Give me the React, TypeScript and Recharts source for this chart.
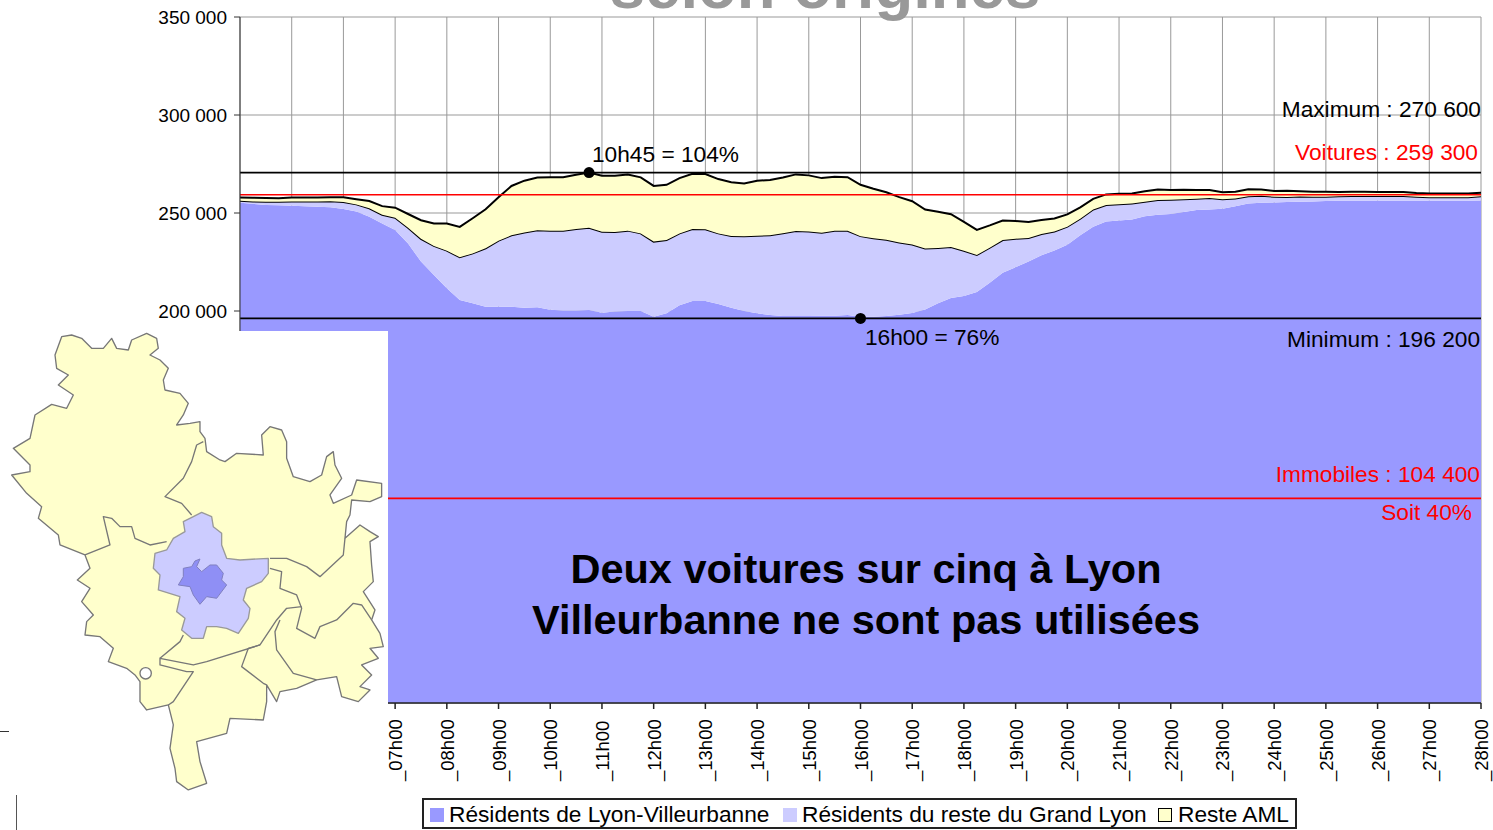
import { Area, AreaChart, CartesianGrid, Legend, ReferenceDot, ReferenceLine, XAxis, YAxis } from "recharts";

const FONT = "'Liberation Sans', Arial, sans-serif";

// one value every 15 minutes, from 04h00 to 28h00
const lyonVilleurbanne = [
  255200, 254700, 254100, 253900, 253700, 253500, 253200, 252900, 252000, 250800, 248100, 244700, 241300,
  234500, 225200, 218400, 211600, 205600, 203900, 202200, 202200, 202200, 201700, 201900, 200700, 200300,
  200300, 200500, 199100, 199700, 200000, 200000, 197100, 198800, 202900, 205100, 205100, 203600, 201700,
  200000, 198800, 197900, 197400, 197400, 197400, 197600, 197600, 197900, 197100, 197100, 197400, 198100,
  199000, 200800, 203900, 206600, 207600, 209700, 214400, 219500, 222300, 225300, 228400, 230900, 233800,
  238600, 243000, 245600, 246200, 246700, 248400, 249100, 249500, 250500, 251500, 251800, 252200, 253500,
  254900, 255200, 255400, 255600, 255800, 255900, 256100, 256300, 256300, 256300, 256300, 256300, 256300,
  256300, 256300, 256300, 256300, 256300, 256400,
];
const resteGrandLyon = [
  1000, 1200, 1700, 1900, 2200, 2400, 2700, 3100, 3600, 3600, 4300, 4400, 6300,
  8000, 11600, 14800, 19200, 21800, 25500, 29800, 33700, 36400, 38300, 39300, 40300, 40600,
  41500, 42000, 41300, 40600, 41000, 39600, 38300, 37400, 36700, 36700, 36600, 36000, 36600,
  38100, 39600, 40800, 42300, 43400, 43200, 42300, 43400, 43000, 41100, 40000, 38900, 36900,
  34900, 31100, 28200, 26000, 23100, 18900, 17900, 16700, 14600, 11900, 10900, 9700, 9200,
  8500, 8800, 8500, 8300, 8200, 7300, 7500, 7300, 6500, 5800, 5800, 4800, 3900,
  3600, 3600, 2900, 2600, 2600, 2400, 2200, 2200, 2400, 2400, 2400, 2400, 2400,
  2000, 1700, 1700, 1700, 1700, 2200,
];
const resteAml = [
  1700, 1900, 1900, 1700, 2000, 2000, 2000, 2000, 2400, 2600, 3700, 4400, 5100,
  7000, 9500, 11400, 13800, 15500, 17900, 19900, 22100, 25200, 26500, 26900, 27200, 27400,
  27700, 28100, 28600, 28700, 28600, 28600, 28400, 28200, 28200, 28200, 28200, 27700, 27400,
  27000, 28100, 28100, 28400, 28900, 28600, 27900, 27500, 27400, 26200, 25300, 24300, 23100,
  22100, 19900, 18500, 16800, 14800, 12800, 11400, 10000, 9000, 8200, 7100, 6600, 6300,
  5800, 5400, 5400, 5300, 5100, 5400, 5400, 4900, 4800, 4400, 4100, 3600, 3400,
  3600, 3200, 2900, 3100, 2700, 2600, 2600, 2200, 2200, 2200, 2000, 2000, 2000,
  1900, 2000, 2000, 2000, 2000, 1700,
];

const hourTicks = [
  "04h00", "05h00", "06h00", "07h00", "08h00", "09h00", "10h00", "11h00", "12h00", "13h00", "14h00", "15h00",
  "16h00", "17h00", "18h00", "19h00", "20h00", "21h00", "22h00", "23h00", "24h00", "25h00", "26h00", "27h00", "28h00",
];
const yTicks = [0, 50000, 100000, 150000, 200000, 250000, 300000, 350000];

const quarterLabels = ["00", "15", "30", "45"];
const rows = lyonVilleurbanne.map((v, i) => ({
  time: hourTicks[Math.floor(i / 4)].slice(0, 3) + quarterLabels[i % 4],
  lyon: v,
  grandLyon: resteGrandLyon[i],
  aml: resteAml[i],
}));

const formatThousands = (v: number) => String(v).replace(/\B(?=(\d{3})+$)/g, " ");

function HourTick(props: any) {
  const { x, y, payload } = props;
  const bx = x + 7;
  const by = y + 70;
  return (
    <text x={bx} y={by} transform={`rotate(-90 ${bx} ${by})`} fontSize={18.5} fontFamily={FONT} fill="#000">
      {"_" + payload.value}
    </text>
  );
}

function ChartLegend(props: any) {
  return (
    <div
      style={{
        boxSizing: "border-box",
        width: 875,
        height: 31,
        border: "2px solid #222",
        background: "#fff",
        fontFamily: FONT,
        fontSize: 22.7,
        color: "#000",
        whiteSpace: "nowrap",
        position: "relative",
      }}
    >
      {props.payload.map((p: any, i: number) => (
        <span key={p.value} style={{ position: "absolute", left: [6, 359, 734][i], top: 0, lineHeight: "29px" }}>
          <span
            style={{
              display: "inline-block",
              boxSizing: "border-box",
              width: 14,
              height: 14,
              marginRight: i === 2 ? 6 : 5,
              background: p.payload.fill,
              border: i === 2 ? "1.5px solid #000" : "none",
            }}
          />
          {p.value}
        </span>
      ))}
    </div>
  );
}

// inset map (not chart data)
const mapOutline =
  "185,35 215,30 245,40 275,70 310,70 335,40 350,70 385,75 395,45 440,25 470,40 475,70 450,90 480,105 505,130 490,165 495,195 540,205 565,235 550,270 530,300 570,295 600,290 600,320 615,340 620,380 660,405 675,410 710,385 790,390 785,330 810,305 845,315 860,350 860,400 880,455 930,470 965,450 980,395 1000,380 1005,420 1025,460 990,510 1000,535 1055,510 1070,465 1145,475 1145,515 1110,530 1055,525 1050,570 1040,590 1035,640 1080,600 1110,620 1135,635 1110,650 1115,720 1120,770 1090,800 1125,855 1115,885 1140,925 1150,965 1110,970 1135,1000 1085,1020 1115,1050 1080,1085 1110,1095 1075,1130 1025,1115 1010,1055 950,1065 890,1090 840,1100 830,1130 800,1080 800,1130 790,1185 690,1180 680,1225 590,1250 600,1310 620,1375 565,1395 530,1370 525,1330 510,1270 520,1200 505,1140 440,1155 420,1130 420,1070 405,1050 380,1030 325,1010 340,970 300,935 255,930 260,890 280,870 245,830 270,790 232,765 270,730 255,690 180,660 175,630 115,580 125,545 80,505 35,450 90,440 90,420 40,370 90,340 105,270 155,238 200,250 220,210 175,180 205,150 170,130 165,90";
const mapBorders = [
  "610,350 590,360 575,410 550,460 495,515 545,535 575,570",
  "255,690 330,660 310,575 335,580 360,605 395,605 405,640 450,660 500,650",
  "810,700 860,700 920,725 960,755 1030,690 1035,640",
  "810,730 845,740 840,790 890,810 905,850 890,910 945,940 960,905 1010,885 1060,835 1085,840 1115,885",
  "905,845 860,850 830,885 780,960 620,1010 580,1020 480,1000 480,1020 560,1040 580,1040 520,1130 505,1140",
  "780,960 745,970 725,1025 790,1075 800,1080",
  "840,885 825,920 830,975 880,1045 950,1065",
  "550,930 540,950 480,1000",
];
const mapGrandLyon =
  "605,562 635,575 640,605 665,625 665,660 680,700 720,705 805,700 805,745 785,770 740,790 730,825 750,850 745,880 715,925 680,910 650,905 620,905 610,940 575,940 545,915 555,880 530,860 540,815 475,795 480,750 460,730 465,685 500,675 520,640 555,620 550,590 580,575";
const mapLyon =
  "600,702 590,725 605,740 630,720 650,720 670,745 665,765 680,780 650,820 620,815 600,838 580,810 570,785 535,780 550,755 550,730 575,725 585,708";

function InsetMap() {
  return (
    <svg width={388} height={499} style={{ position: "absolute", left: 0, top: 331 }}>
      <rect width={388} height={499} fill="#fff" />
      <line x1={0} x2={9} y1={400.5} y2={400.5} stroke="#333" />
      <line x1={16.5} x2={16.5} y1={464} y2={499} stroke="#555" />
      <g transform="translate(0,-6) scale(0.3333)" strokeLinejoin="round">
        <polygon points={mapOutline} fill="#FFFFCC" stroke="#777" strokeWidth={4} />
        {mapBorders.map((b) => (
          <polyline key={b} points={b} fill="none" stroke="#777" strokeWidth={4} />
        ))}
        <circle cx={437} cy={1045} r={17} fill="#fff" stroke="#777" strokeWidth={4} />
        <polygon points={mapGrandLyon} fill="#CCCCFF" stroke="#999" strokeWidth={4} />
        <polygon points={mapLyon} fill="#8F8FF5" stroke="#8080c0" strokeWidth={3} />
      </g>
    </svg>
  );
}

function Annotations() {
  const txt = { fontFamily: FONT, fontSize: 22.7 };
  return (
    <svg width={1493} height={830} style={{ position: "absolute", left: 0, top: 0, pointerEvents: "none" }}>
      <text x={825} y={8} textAnchor="middle" fontFamily={FONT} fontWeight={700} fontSize={63.5} fill="#999">
        selon origines
      </text>
      <text {...txt} x={592} y={162}>10h45 = 104%</text>
      <text {...txt} x={865} y={345}>16h00 = 76%</text>
      <text {...txt} x={1481} y={117} textAnchor="end">Maximum : 270 600</text>
      <text {...txt} x={1478} y={160} textAnchor="end" fill="#FF0000">Voitures : 259 300</text>
      <text {...txt} x={1480} y={347} textAnchor="end">Minimum : 196 200</text>
      <text {...txt} x={1480} y={482} textAnchor="end" fill="#FF0000">Immobiles : 104 400</text>
      <text {...txt} x={1472} y={520} textAnchor="end" fill="#FF0000">Soit 40%</text>
      <g fontFamily={FONT} fontWeight={700} fontSize={41.5} textAnchor="middle" fill="#000">
        <text x={866} y={583}>Deux voitures sur cinq à Lyon</text>
        <text x={866} y={634}>Villeurbanne ne sont pas utilisées</text>
      </g>
    </svg>
  );
}

export default function App() {
  return (
    <div style={{ position: "absolute", left: 0, top: 0, width: 1493, height: 830, overflow: "hidden", background: "#fff" }}>
      <AreaChart width={1493} height={830} data={rows} margin={{ top: 17, right: 12, bottom: 0, left: 0 }}>
        <CartesianGrid stroke="#999" strokeWidth={1} />
        <XAxis
          dataKey="time"
          ticks={hourTicks}
          interval={0}
          height={127}
          tick={HourTick}
          tickSize={6}
          stroke="#222"
          strokeWidth={1.5}
        />
        <YAxis
          width={240}
          domain={[0, 350000]}
          ticks={yTicks}
          interval={0}
          tickFormatter={formatThousands}
          tickSize={6}
          tickMargin={7}
          stroke="#333"
          tick={{ fontFamily: FONT, fontSize: 19, fill: "#000" }}
        />
        <Legend
          content={ChartLegend}
          itemSorter={null}
          layout="horizontal"
          verticalAlign="middle"
          align="center"
          wrapperStyle={{ left: 422, top: 798, width: 875, height: 31, margin: 0 }}
        />
        <Area
          dataKey="lyon"
          name="Résidents de Lyon-Villeurbanne"
          stackId="a"
          type="linear"
          fill="#9999FF"
          fillOpacity={1}
          stroke="none"
          isAnimationActive={false}
        />
        <Area
          dataKey="grandLyon"
          name="Résidents du reste du Grand Lyon"
          stackId="a"
          type="linear"
          fill="#CCCCFF"
          fillOpacity={1}
          stroke="#000"
          strokeWidth={2}
          isAnimationActive={false}
        />
        <Area
          dataKey="aml"
          name="Reste AML"
          stackId="a"
          type="linear"
          fill="#FFFFCC"
          fillOpacity={1}
          stroke="#000"
          strokeWidth={2}
          isAnimationActive={false}
        />
        <ReferenceLine y={270600} stroke="#000" strokeWidth={1.7} />
        <ReferenceLine y={259300} stroke="#FF0000" strokeWidth={1.7} />
        <ReferenceLine y={196200} stroke="#000" strokeWidth={1.7} />
        <ReferenceLine y={104400} stroke="#FF0000" strokeWidth={1.7} />
        <ReferenceDot x="10h45" y={270600} r={5.5} fill="#000" stroke="none" />
        <ReferenceDot x="16h00" y={196200} r={5.5} fill="#000" stroke="none" />
      </AreaChart>
      <InsetMap />
      <Annotations />
    </div>
  );
}
